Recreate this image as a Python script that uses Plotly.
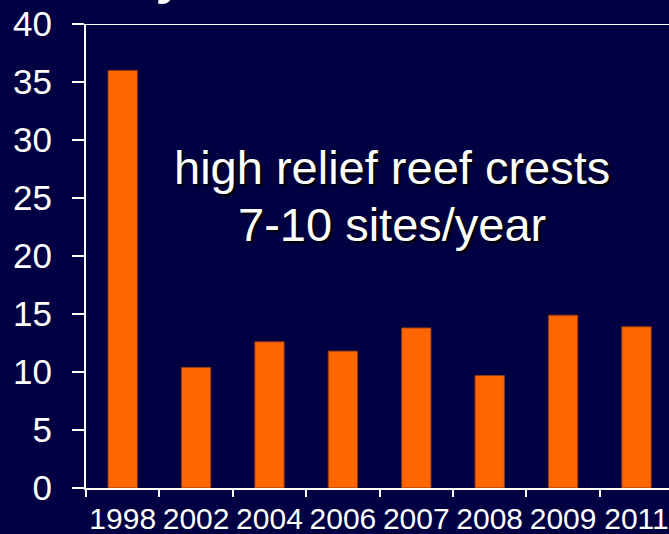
import plotly.graph_objects as go

years = ["1998", "2002", "2004", "2006", "2007", "2008", "2009", "2011"]
values = [36.0, 10.4, 12.6, 11.8, 13.8, 9.7, 14.9, 13.9]
y_ticks = [0, 5, 10, 15, 20, 25, 30, 35, 40]
note_line1 = "high relief reef crests"
note_line2 = "7-10 sites/year"

BG = "#000042"
FONT = "Arial, Liberation Sans, sans-serif"

fig = go.Figure()
fig.add_trace(go.Bar(
    x=years, y=values, width=0.4,
    marker=dict(color="#ff6600", line=dict(color="#8a3a1a", width=1)),
    showlegend=False,
))

fig.update_layout(
    width=669, height=534,
    margin=dict(l=86, r=0, t=24, b=46),
    paper_bgcolor=BG, plot_bgcolor=BG,
    font=dict(family=FONT, color="white"),
    bargap=0.6,
)
fig.update_xaxes(
    type="category", range=[-0.5, 7.443], automargin=False, tickangle=0,
    showline=True, linecolor="white", linewidth=2,
    ticks="outside", tickson="boundaries", ticklen=7, tickwidth=2, tickcolor="white",
    tickfont=dict(size=30, color="white", family=FONT),
    ticklabelstandoff=3,
    showgrid=False, zeroline=False,
)
fig.update_yaxes(
    range=[0, 40], tickvals=y_ticks, ticktext=[str(v) for v in y_ticks], automargin=False,
    showline=True, linecolor="white", linewidth=2,
    ticks="outside", ticklen=12, tickwidth=2, tickcolor="white",
    tickfont=dict(size=35, color="white", family=FONT),
    ticklabelstandoff=13,
    showgrid=False, zeroline=False,
)
fig.add_shape(type="line", xref="paper", yref="y", x0=0, x1=1, y0=40, y1=40,
              line=dict(color="white", width=2))

shadow = "2px 2px 2px #000000"
fig.add_annotation(text=note_line1, xref="paper", yref="paper", x=0.525, y=0.691,
                   xanchor="center", yanchor="middle", showarrow=False,
                   font=dict(size=47, color="white", family=FONT, shadow=shadow))
fig.add_annotation(text=note_line2, xref="paper", yref="paper", x=0.525, y=0.568,
                   xanchor="center", yanchor="middle", showarrow=False,
                   font=dict(size=47, color="white", family=FONT, shadow=shadow))
fig.add_annotation(text="<b><i>y</i></b>", xref="paper", yref="paper", x=0.15, y=1,
                   xanchor="center", yanchor="bottom", yshift=17, showarrow=False,
                   font=dict(size=50, color="white", family=FONT))

fig.write_html("out.html")
